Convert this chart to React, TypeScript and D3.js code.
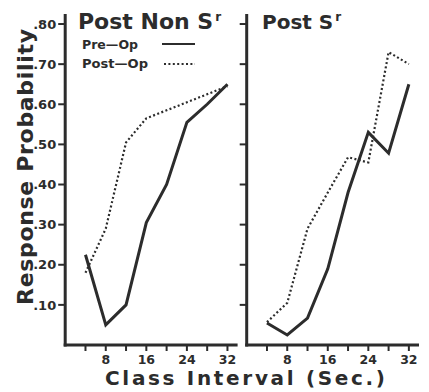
import React from "react";
import * as d3 from "d3";

const classIntervals = [4, 8, 12, 16, 20, 24, 28, 32];
const nonSrPreOp = [0.225, 0.05, 0.1, 0.305, 0.4, 0.555, 0.6, 0.65];
const nonSrPostOp = [0.18, 0.29, 0.505, 0.565, 0.585, 0.605, 0.625, 0.645];
const srPreOp = [0.055, 0.025, 0.067, 0.19, 0.38, 0.53, 0.478, 0.65];
const srPostOp = [0.057, 0.105, 0.29, 0.38, 0.468, 0.455, 0.73, 0.7];
const yTicks = [0.1, 0.2, 0.3, 0.4, 0.5, 0.6, 0.7, 0.8];
const xTicks = [4, 8, 12, 16, 20, 24, 28, 32];
const xTickLabels = [8, 16, 24, 32];
const fmtY = (v: number) => "." + Math.round(v * 100).toString();

const INK = "#2c2c2c";
const FONT = "'DejaVu Sans', sans-serif";

const y = d3.scaleLinear().domain([0, 0.825]).range([345, 14]);

type PanelProps = {
  x0: number;
  x1: number;
  pre: number[];
  post: number[];
  showYLabels: boolean;
};

function Panel({ x0, x1, pre, post, showYLabels }: PanelProps) {
  const x = d3.scaleLinear().domain([0, 34]).range([x0, x1]);
  const line = d3
    .line<number>()
    .x((_, i) => x(classIntervals[i]))
    .y((d) => y(d));
  return (
    <g>
      <line x1={x(0)} x2={x(0)} y1={y(0.825)} y2={y(0) + 1.5} stroke={INK} strokeWidth={3} />
      <line x1={x(0) - 1.5} x2={x(34)} y1={y(0)} y2={y(0)} stroke={INK} strokeWidth={3} />
      {yTicks.map((t) => (
        <g key={t}>
          <line x1={x(0) - 7} x2={x(0)} y1={y(t)} y2={y(t)} stroke={INK} strokeWidth={2} />
          {showYLabels && (
            <text
              x={x(0) - 9}
              y={y(t)}
              dy="0.36em"
              textAnchor="end"
              fontSize={13}
              fontWeight="bold"
              fontFamily={FONT}
              fill={INK}
            >
              {fmtY(t)}
            </text>
          )}
        </g>
      ))}
      {xTicks.map((t) => (
        <line key={t} x1={x(t)} x2={x(t)} y1={y(0)} y2={y(0) + 6} stroke={INK} strokeWidth={2} />
      ))}
      {xTickLabels.map((t) => (
        <text
          key={t}
          x={x(t)}
          y={364}
          textAnchor="middle"
          fontSize={12.5}
          fontWeight="bold"
          fontFamily={FONT}
          fill={INK}
        >
          {t}
        </text>
      ))}
      <path d={line(pre) || ""} fill="none" stroke={INK} strokeWidth={3} strokeLinejoin="miter" />
      <path
        d={line(post) || ""}
        fill="none"
        stroke={INK}
        strokeWidth={2.2}
        strokeDasharray="2,2.4"
      />
    </g>
  );
}

export default function App() {
  return (
    <svg
      width={429}
      height={392}
      style={{ position: "absolute", left: 0, top: 0, background: "#fff" }}
    >
      <rect width={429} height={392} fill="#fff" />
      <Panel x0={65.2} x1={237.6} pre={nonSrPreOp} post={nonSrPostOp} showYLabels={true} />
      <Panel x0={246.7} x1={419} pre={srPreOp} post={srPostOp} showYLabels={false} />

      <text x={78} y={29} fontSize={22} fontWeight="bold" fontFamily={FONT} fill={INK}>
        Post Non S
        <tspan dx={2} dy={-8} fontSize={12}>r</tspan>
      </text>
      <text x={262} y={29} fontSize={20} fontWeight="bold" fontFamily={FONT} fill={INK}>
        Post S
        <tspan dx={2} dy={-8} fontSize={12}>r</tspan>
      </text>

      <text x={82} y={49} fontSize={13} fontWeight="bold" fontFamily={FONT} fill={INK} textLength={56} lengthAdjust="spacingAndGlyphs">
        Pre—Op
      </text>
      <line x1={162} x2={195} y1={44} y2={44} stroke={INK} strokeWidth={2} />
      <text x={82} y={68} fontSize={13} fontWeight="bold" fontFamily={FONT} fill={INK} textLength={66} lengthAdjust="spacingAndGlyphs">
        Post—Op
      </text>
      <line x1={164} x2={195} y1={64} y2={64} stroke={INK} strokeWidth={1.8} strokeDasharray="2,2.4" />

      <text
        transform="translate(33,167) rotate(-90)"
        textAnchor="middle"
        fontSize={22}
        fontWeight="bold"
        fontFamily={FONT}
        fill={INK}
        textLength={276}
        lengthAdjust="spacing"
      >
        Response Probability
      </text>
      <text
        x={105}
        y={385}
        fontSize={20}
        fontWeight="bold"
        fontFamily={FONT}
        fill={INK}
        textLength={280}
        lengthAdjust="spacing"
      >
        Class Interval (Sec.)
      </text>
    </svg>
  );
}
